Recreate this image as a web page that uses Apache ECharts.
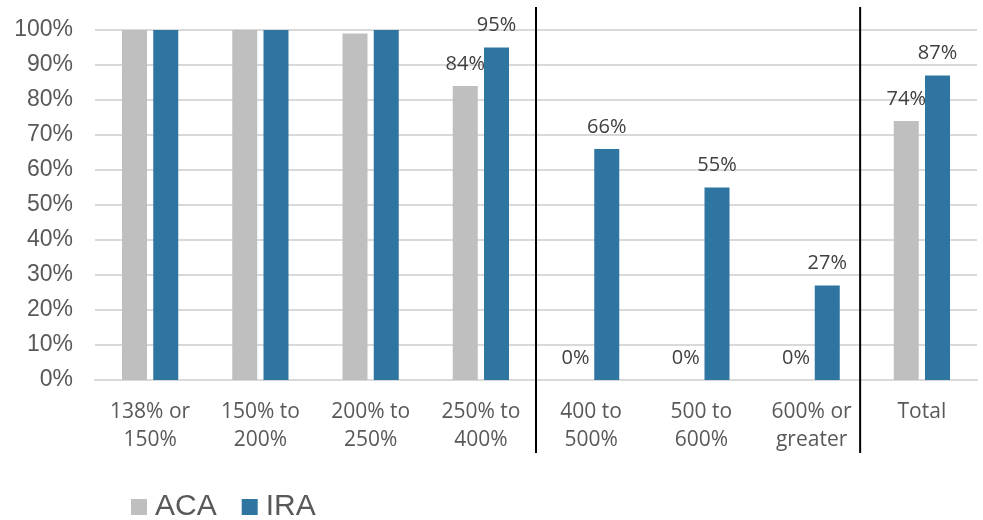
<!DOCTYPE html>
<html>
<head>
<meta charset="utf-8">
<script src="https://cdn.jsdelivr.net/npm/echarts@6/dist/echarts.min.js"></script>
<style>
  html, body { margin: 0; padding: 0; background: #fff; }
  #chart { width: 983px; height: 520px; }
</style>
</head>
<body>
<div id="chart"></div>
<script>
// Income bands (share of poverty level) and overall total
const categories = [
  '138% or\n150%', '150% to\n200%', '200% to\n250%', '250% to\n400%',
  '400 to\n500%', '500 to\n600%', '600% or\ngreater', 'Total'
];
const acaValues = [100, 100, 99, 84, 0, 0, 0, 74];
const iraValues = [100, 100, 100, 95, 66, 55, 27, 87];
// Which categories carry a value label
const showLabel = [false, false, false, true, true, true, true, true];
const yTicks = [0, 10, 20, 30, 40, 50, 60, 70, 80, 90, 100];

const chart = echarts.init(document.getElementById('chart'));

function seriesData(values) {
  return values.map((v, i) => ({
    value: v,
    label: { show: showLabel[i] }
  }));
}

const labelStyle = {
  position: 'top',
  distance: 12,
  formatter: p => p.value + '%',
  fontFamily: 'Open Sans',
  fontSize: 20,
  color: '#404040'
};

chart.setOption({
  animation: false,
  grid: { left: 95, right: 6, top: 30, bottom: 140 },
  legend: {
    left: 131,
    top: 492,
    padding: 0,
    itemWidth: 16,
    itemHeight: 16,
    itemGap: 25,
    icon: 'rect',
    textStyle: {
      fontFamily: 'Liberation Sans',
      fontSize: 30,
      color: '#595959',
      padding: [0, 0, 0, 3]
    },
    data: ['ACA', 'IRA']
  },
  xAxis: {
    type: 'category',
    data: categories,
    axisLine: { lineStyle: { color: '#D9D9D9', width: 2 } },
    axisTick: { show: false },
    axisLabel: {
      margin: 18,
      fontFamily: 'Open Sans',
      fontSize: 21,
      lineHeight: 28,
      color: '#595959',
      interval: 0
    }
  },
  yAxis: {
    type: 'value',
    min: yTicks[0],
    max: yTicks[yTicks.length - 1],
    interval: yTicks[1] - yTicks[0],
    axisLine: { show: false },
    axisTick: { show: false },
    splitLine: { lineStyle: { color: '#D9D9D9', width: 2 } },
    axisLabel: {
      margin: 22,
      formatter: v => v + '%',
      fontFamily: 'Liberation Sans',
      fontSize: 23,
      color: '#595959'
    }
  },
  series: [
    {
      name: 'ACA',
      type: 'bar',
      data: seriesData(acaValues),
      barWidth: 25,
      barGap: '25%',
      itemStyle: { color: '#BFBFBF' },
      label: labelStyle
    },
    {
      name: 'IRA',
      type: 'bar',
      data: seriesData(iraValues),
      barWidth: 25,
      barGap: '25%',
      itemStyle: { color: '#2E75A1' },
      label: labelStyle
    }
  ]
});

// Vertical dividers between the band groups and before the total
function dividerX(idx, frac) {
  const a = chart.convertToPixel({ xAxisIndex: 0 }, idx);
  const b = chart.convertToPixel({ xAxisIndex: 0 }, idx + 1);
  return a + (b - a) * frac;
}
const dividers = [dividerX(3, 0.5), dividerX(6, 0.44)];
chart.setOption({
  graphic: dividers.map(x => ({
    type: 'line',
    shape: { x1: x, y1: 7, x2: x, y2: 453 },
    style: { stroke: '#000', lineWidth: 2 },
    z: 10
  }))
});
</script>
</body>
</html>
